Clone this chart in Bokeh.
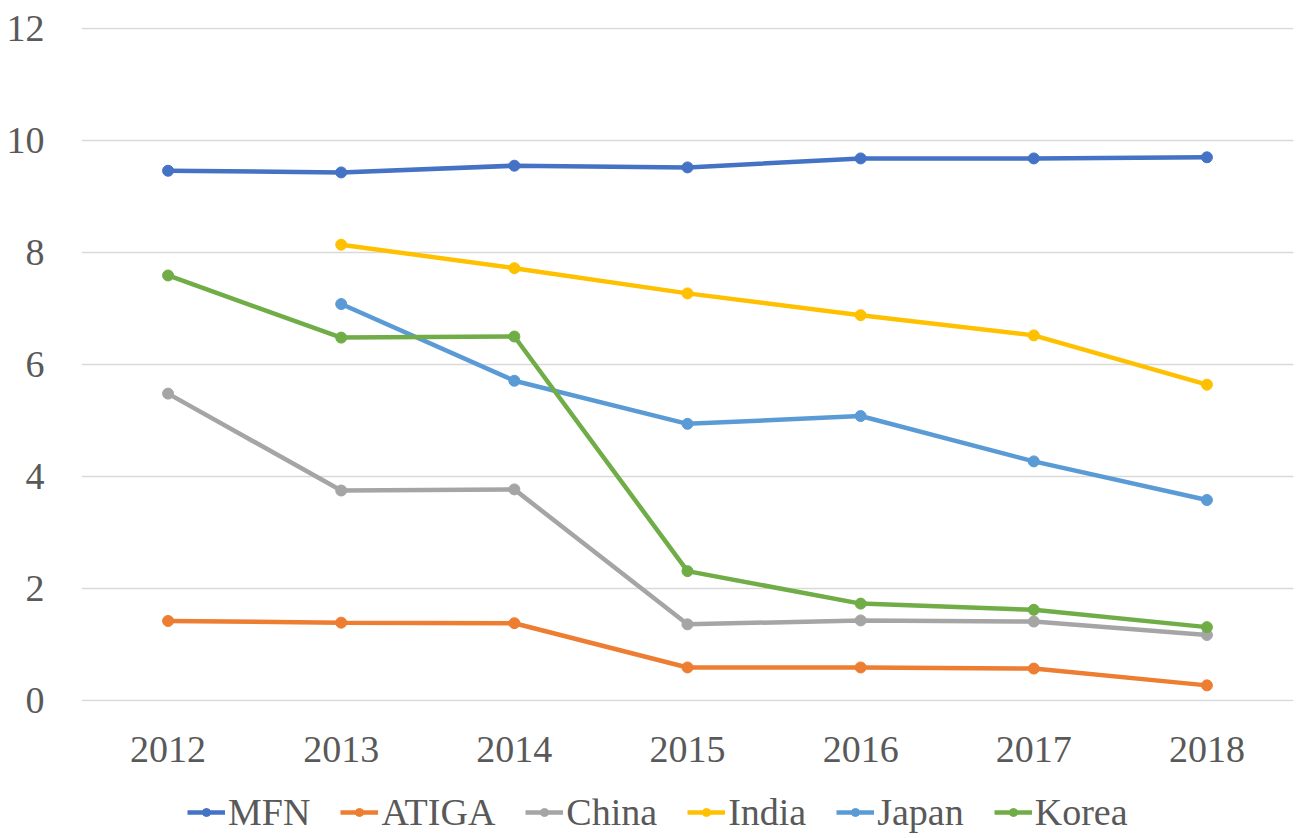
from bokeh.plotting import figure
from bokeh.layouts import column
from bokeh.models import Range1d, FixedTicker, Legend, LegendItem
from bokeh.embed import file_html
from bokeh.resources import INLINE
import numpy as np

years = [2012, 2013, 2014, 2015, 2016, 2017, 2018]
mfn = [9.46, 9.43, 9.55, 9.52, 9.68, 9.68, 9.70]
atiga = [1.42, 1.39, 1.38, 0.59, 0.59, 0.57, 0.27]
china = [5.48, 3.75, 3.77, 1.36, 1.43, 1.41, 1.17]
india = [np.nan, 8.14, 7.72, 7.27, 6.88, 6.52, 5.64]
japan = [np.nan, 7.08, 5.71, 4.94, 5.08, 4.27, 3.58]
korea = [7.59, 6.48, 6.50, 2.31, 1.73, 1.62, 1.31]
y_ticks = [0, 2, 4, 6, 8, 10, 12]

series = [
    ("MFN", mfn, "#4472C4"),
    ("ATIGA", atiga, "#ED7D31"),
    ("China", china, "#A5A5A5"),
    ("India", india, "#FFC000"),
    ("Japan", japan, "#5B9BD5"),
    ("Korea", korea, "#70AD47"),
]

FONT = "Liberation Serif"
TXT = "#595959"
LW = 4.5
MS = 11

p1 = figure(width=1298, height=792,
            x_range=Range1d(2011.5, 2018.5), y_range=Range1d(-0.018, 12.018),
            output_backend="svg", toolbar_location=None,
            min_border_left=81, min_border_right=5,
            min_border_top=27, min_border_bottom=91)
p1.outline_line_color = None
p1.background_fill_color = "white"
p1.border_fill_color = "white"

p1.xgrid.grid_line_color = None
p1.ygrid.grid_line_color = "#D9D9D9"
p1.ygrid.grid_line_width = 1.5
p1.yaxis.ticker = FixedTicker(ticks=y_ticks)
p1.xaxis.ticker = FixedTicker(ticks=years)

for ax in (p1.xaxis[0], p1.yaxis[0]):
    ax.axis_line_color = None
    ax.major_tick_line_color = None
    ax.minor_tick_line_color = None
    ax.major_tick_out = 0
    ax.major_tick_in = 0
    ax.minor_tick_out = 0
    ax.minor_tick_in = 0
    ax.major_label_text_font = FONT
    ax.major_label_text_font_size = "38px"
    ax.major_label_text_color = TXT
p1.yaxis.major_label_standoff = 37
p1.xaxis.major_label_standoff = 35

for name, vals, col in series:
    p1.line(years, vals, line_color=col, line_width=LW)
    p1.scatter(years, vals, marker="circle", size=MS, fill_color=col, line_color=col)

# legend strip below the chart (its own renderers sit outside its view range)
p2 = figure(width=1298, height=46, x_range=Range1d(0, 1), y_range=Range1d(0, 1),
            x_axis_location=None, y_axis_location=None,
            output_backend="svg", toolbar_location=None,
            min_border=0, min_border_left=0, min_border_right=0,
            min_border_top=0, min_border_bottom=0)
p2.grid.visible = False
p2.outline_line_color = None
p2.border_fill_color = "white"
p2.background_fill_color = "white"

items = []
for name, vals, col in series:
    r1 = p2.line(years, vals, line_color=col, line_width=LW)
    r2 = p2.scatter(years, vals, marker="circle", size=MS, fill_color=col, line_color=col)
    items.append(LegendItem(label=name, renderers=[r1, r2]))

legend = Legend(items=items, orientation="horizontal", location=(106, 4),
                glyph_width=38, glyph_height=20, label_standoff=3, spacing=30,
                padding=0, margin=0, border_line_color=None,
                background_fill_alpha=0,
                label_text_font=FONT, label_text_font_size="38px",
                label_text_color=TXT)
p2.add_layout(legend, "center")

layout = column(p1, p2, spacing=0)
open("out.html", "w").write(file_html(layout, INLINE))
